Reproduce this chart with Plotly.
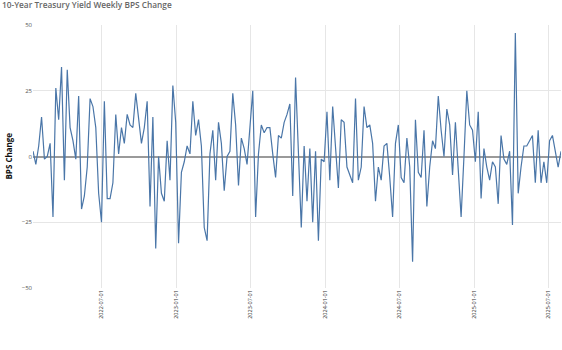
import pandas as pd
import plotly.graph_objects as go

# Weekly observation dates (Fridays)
week_start = "2022-01-14"
n_weeks = 186
weeks = pd.date_range(week_start, periods=n_weeks, freq="7D")

# Week-over-week change in the 10-year yield, basis points
bps_change = [
    2, -3, 4, 15, -1, 0, 5, -23, 26, 14,
    34, -9, 33, 11, 6, -1, 23, -20, -15, -4,
    22, 19, 11, -14, -25, 21, -16, -16, -10, 16,
    1, 11, 5, 16, 12, 11, 24, 14, 5, 11,
    21, -19, 15, -35, 0, -14, -17, 6, -9, 27,
    13, -33, -6, -2, 4, 1, 21, 8, 14, 4,
    -27, -32, 1, 10, -9, 13, 5, -13, 0, 2,
    24, 12, -11, 7, 3, -3, 11, 25, -23, 1,
    12, 9, 11, 11, 1, -8, 8, 7, 13, 16,
    20, -15, 30, 2, -27, 4, -17, 3, -25, 2,
    -32, -1, -2, 17, -9, 19, 2, -12, 14, 13,
    -4, -7, -10, 22, -9, -4, 19, 11, 12, 5,
    -17, -4, -9, 4, 5, -8, -23, 5, 12, -8,
    -10, 7, -4, -40, 14, -6, -8, 10, -19, -4,
    6, 3, 23, 10, 0, 18, 12, -7, 13, -5,
    -23, 0, 25, 12, 10, -2, 17, -16, 3, -4,
    -9, -2, -4, -18, 8, -1, -3, 2, -26, 47,
    -14, -4, 4, 4, 6, 8, -10, 10, -10, -2,
    -10, 6, 8, 2, -4, 2,
]

y_ticks = [-50, -25, 0, 25, 50]
x_ticks = ["2022-07-01", "2023-01-01", "2023-07-01", "2024-01-01",
           "2024-07-01", "2025-01-01", "2025-07-01"]

fig = go.Figure(
    go.Scatter(
        x=weeks,
        y=bps_change,
        mode="lines",
        line=dict(color="#4a76a8", width=1.2),
        hoverinfo="x+y",
    )
)

fig.update_layout(
    width=562,
    height=350,
    margin=dict(l=33, r=1, t=25, b=62),
    paper_bgcolor="white",
    plot_bgcolor="white",
    showlegend=False,
    font=dict(family="Open Sans, sans-serif"),
    title=dict(
        text="10-Year Treasury Yield Weekly BPS Change",
        xref="container", yref="container",
        x=2 / 562, y=1 - 2 / 350,
        xanchor="left", yanchor="top",
        font=dict(size=8.3, color="#666666", weight=600),
        pad=dict(t=0, l=0, b=0, r=0),
    ),
    annotations=[
        dict(
            text="<b>BPS Change</b>",
            xref="paper", yref="paper",
            x=(8 - 33) / 528, y=0.5,
            xanchor="center", yanchor="middle",
            textangle=-90, showarrow=False,
            font=dict(size=8, color="#111111"),
        )
    ],
)

fig.update_xaxes(
    type="date",
    tickvals=x_ticks,
    ticktext=x_ticks,
    tickangle=-90,
    tickfont=dict(size=5.5, color="#333333"),
    showgrid=True,
    gridcolor="#e6e6e6",
    gridwidth=1,
    zeroline=False,
    showline=False,
    ticks="",
)

fig.update_yaxes(
    range=[-50, 50],
    tickvals=y_ticks,
    tickfont=dict(size=6, color="#555555"),
    showgrid=True,
    gridcolor="#e6e6e6",
    gridwidth=1,
    zeroline=True,
    zerolinecolor="#9a9a9a",
    zerolinewidth=1.5,
    showline=False,
    ticks="",
)

fig.write_html("out.html")
